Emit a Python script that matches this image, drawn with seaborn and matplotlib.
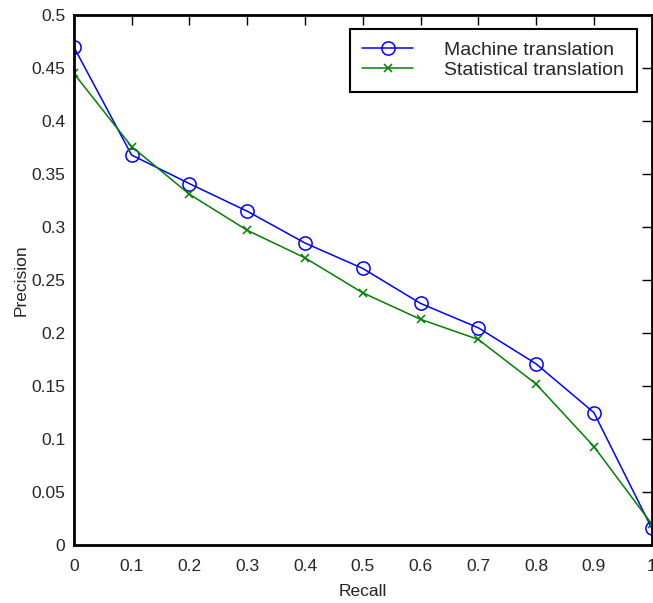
import numpy as np
import pandas as pd
import seaborn as sns
import matplotlib.pyplot as plt

# Data
recall = [0.0, 0.1, 0.2, 0.3, 0.4, 0.5, 0.6, 0.7, 0.8, 0.9, 1.0]
machine = [0.470, 0.368, 0.341, 0.315, 0.285, 0.261, 0.228, 0.205, 0.171, 0.125, 0.016]
statistical = [0.445, 0.376, 0.331, 0.297, 0.271, 0.238, 0.213, 0.194, 0.152, 0.093, 0.020]
series_names = ["Machine translation", "Statistical translation"]

df = pd.DataFrame({"Recall": recall, "machine": machine, "statistical": statistical})

sns.set_style("white")
plt.rcParams['font.family'] = ['Liberation Sans', 'DejaVu Sans']
plt.rcParams['xtick.direction'] = 'in'
plt.rcParams['ytick.direction'] = 'in'

fig = plt.figure(figsize=(6.53, 6.03), dpi=100)
ax = fig.add_axes([0.113, 0.096, 0.885, 0.879])

# Two series, drawn separately (open circles vs x markers)
sns.lineplot(data=df, x="Recall", y="machine", color="#0000ff", marker="o",
             markersize=9.5, markerfacecolor="none", markeredgecolor="#0000ff",
             markeredgewidth=1.1, linewidth=1.1, label=series_names[0], ax=ax)
sns.lineplot(data=df, x="Recall", y="statistical", color="#008000", marker="x",
             markersize=5.5, markeredgecolor="#008000", markeredgewidth=1.1,
             linewidth=1.1, label=series_names[1], ax=ax)

ax.set_xlim(0, 1)
ax.set_ylim(0, 0.5)
ax.set_xticks(np.arange(0, 1.01, 0.1))
ax.set_yticks(np.arange(0, 0.501, 0.05))
ax.set_xticklabels(["0", "0.1", "0.2", "0.3", "0.4", "0.5", "0.6", "0.7", "0.8", "0.9", "1"])
ax.set_yticklabels(["0", "0.05", "0.1", "0.15", "0.2", "0.25", "0.3", "0.35", "0.4", "0.45", "0.5"])
ax.tick_params(axis="both", which="both", top=True, right=True, length=7, width=1,
               labelsize=12.5, color="black")
ax.tick_params(axis="x", pad=10)
ax.tick_params(axis="y", pad=6)

for s in ax.spines.values():
    s.set_color("black")
    s.set_linewidth(2)

ax.set_xlabel("Recall", fontsize=12.5, labelpad=7)
ax.set_ylabel("Precision", fontsize=12.5, labelpad=2)

leg = ax.legend(loc="upper right", bbox_to_anchor=(0.974, 0.974), fontsize=14,
                frameon=True, fancybox=False, handlelength=2.6, handletextpad=1.6,
                borderpad=0.65, labelspacing=0.12, borderaxespad=0)
leg.get_frame().set_edgecolor("black")
leg.get_frame().set_linewidth(1.5)
leg.get_frame().set_alpha(1)

plt.savefig("out.png", dpi=100)
